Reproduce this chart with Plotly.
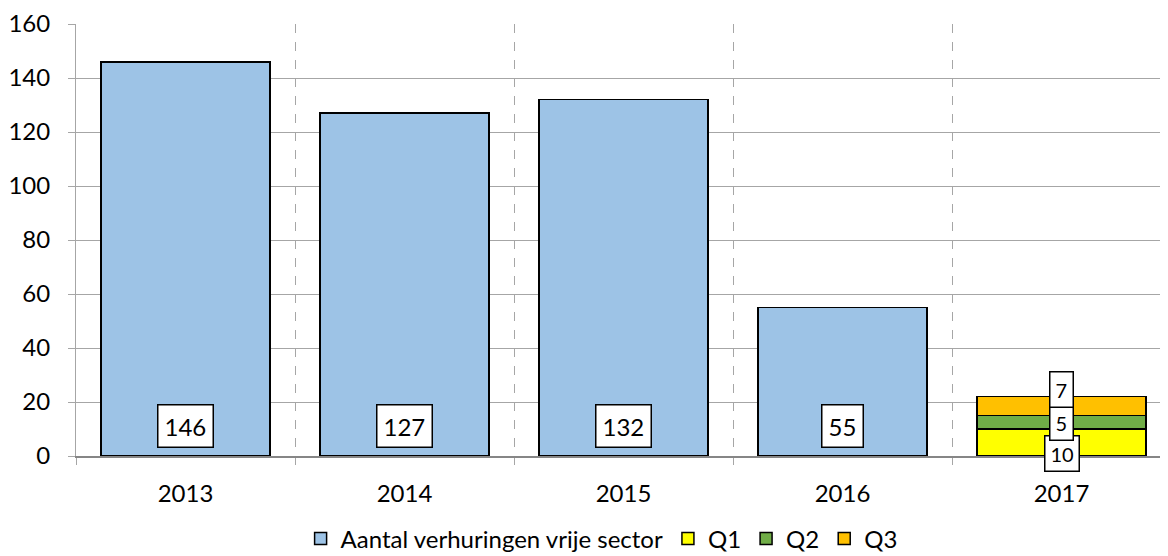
import plotly.graph_objects as go

years = ["2013", "2014", "2015", "2016", "2017"]
vrije_sector = [146, 127, 132, 55, None]
q1 = [None, None, None, None, 10]
q2 = [None, None, None, None, 5]
q3 = [None, None, None, None, 7]

font = "Lato, 'Open Sans', sans-serif"
edge = dict(color="black", width=1.5)

fig = go.Figure()
fig.add_trace(go.Bar(x=years, y=vrije_sector, name="Aantal verhuringen vrije sector",
                     marker=dict(color="#9DC3E6", line=edge)))
fig.add_trace(go.Bar(x=years, y=q1, name="Q1", marker=dict(color="#FFFF00", line=edge)))
fig.add_trace(go.Bar(x=years, y=q2, name="Q2", marker=dict(color="#70AD47", line=edge)))
fig.add_trace(go.Bar(x=years, y=q3, name="Q3", marker=dict(color="#FFC000", line=edge)))

# value boxes at the base of the yearly bars (x given as category index)
for i, v in enumerate(vrije_sector):
    if v is None:
        continue
    fig.add_annotation(x=i, y=0, yanchor="bottom", yshift=8, text=str(v), showarrow=False,
                       font=dict(family=font, size=24, color="black"),
                       bgcolor="white", bordercolor="black", borderwidth=1.5, borderpad=6)

# 2017 quarter boxes (moved apart like in the original)
base = 0
for vals, shift in [(q1, -11), (q2, 0), (q3, 17)]:
    v = vals[4]
    fig.add_annotation(x=4, y=base + v / 2, yshift=shift, text=str(v), showarrow=False,
                       font=dict(family=font, size=20, color="black"),
                       bgcolor="white", bordercolor="black", borderwidth=1.5, borderpad=5)
    base += v

# page body has an 8px margin, so margins are reduced by 8 to line up with the reference
fig.update_layout(
    barmode="stack",
    bargap=0.23,
    width=1168, height=556,
    margin=dict(l=68, r=5, t=16, b=108),
    plot_bgcolor="white", paper_bgcolor="white",
    font=dict(family=font, size=24, color="black"),
    legend=dict(orientation="h", x=0.48, xanchor="center", yref="container", y=0.045,
                yanchor="middle", font=dict(size=24), traceorder="normal"),
    showlegend=True,
)
fig.update_xaxes(type="category", range=[-0.5, 4.5], tickson="boundaries", showgrid=True,
                 griddash="dash", gridcolor="#A6A6A6", gridwidth=1, ticks="outside", ticklen=7,
                 tickcolor="#A6A6A6", showline=True, linecolor="#868686", linewidth=1.5,
                 ticklabelstandoff=15, tickangle=0, tickfont=dict(size=24), automargin=False)
fig.update_yaxes(range=[0, 160], dtick=20, showgrid=True, gridcolor="#A6A6A6", gridwidth=1,
                 ticks="outside", ticklen=7, tickcolor="#A6A6A6", showline=True,
                 linecolor="#A6A6A6", linewidth=1, zeroline=False, ticklabelstandoff=13,
                 tickfont=dict(size=24), automargin=False)

fig.write_html("out.html")
